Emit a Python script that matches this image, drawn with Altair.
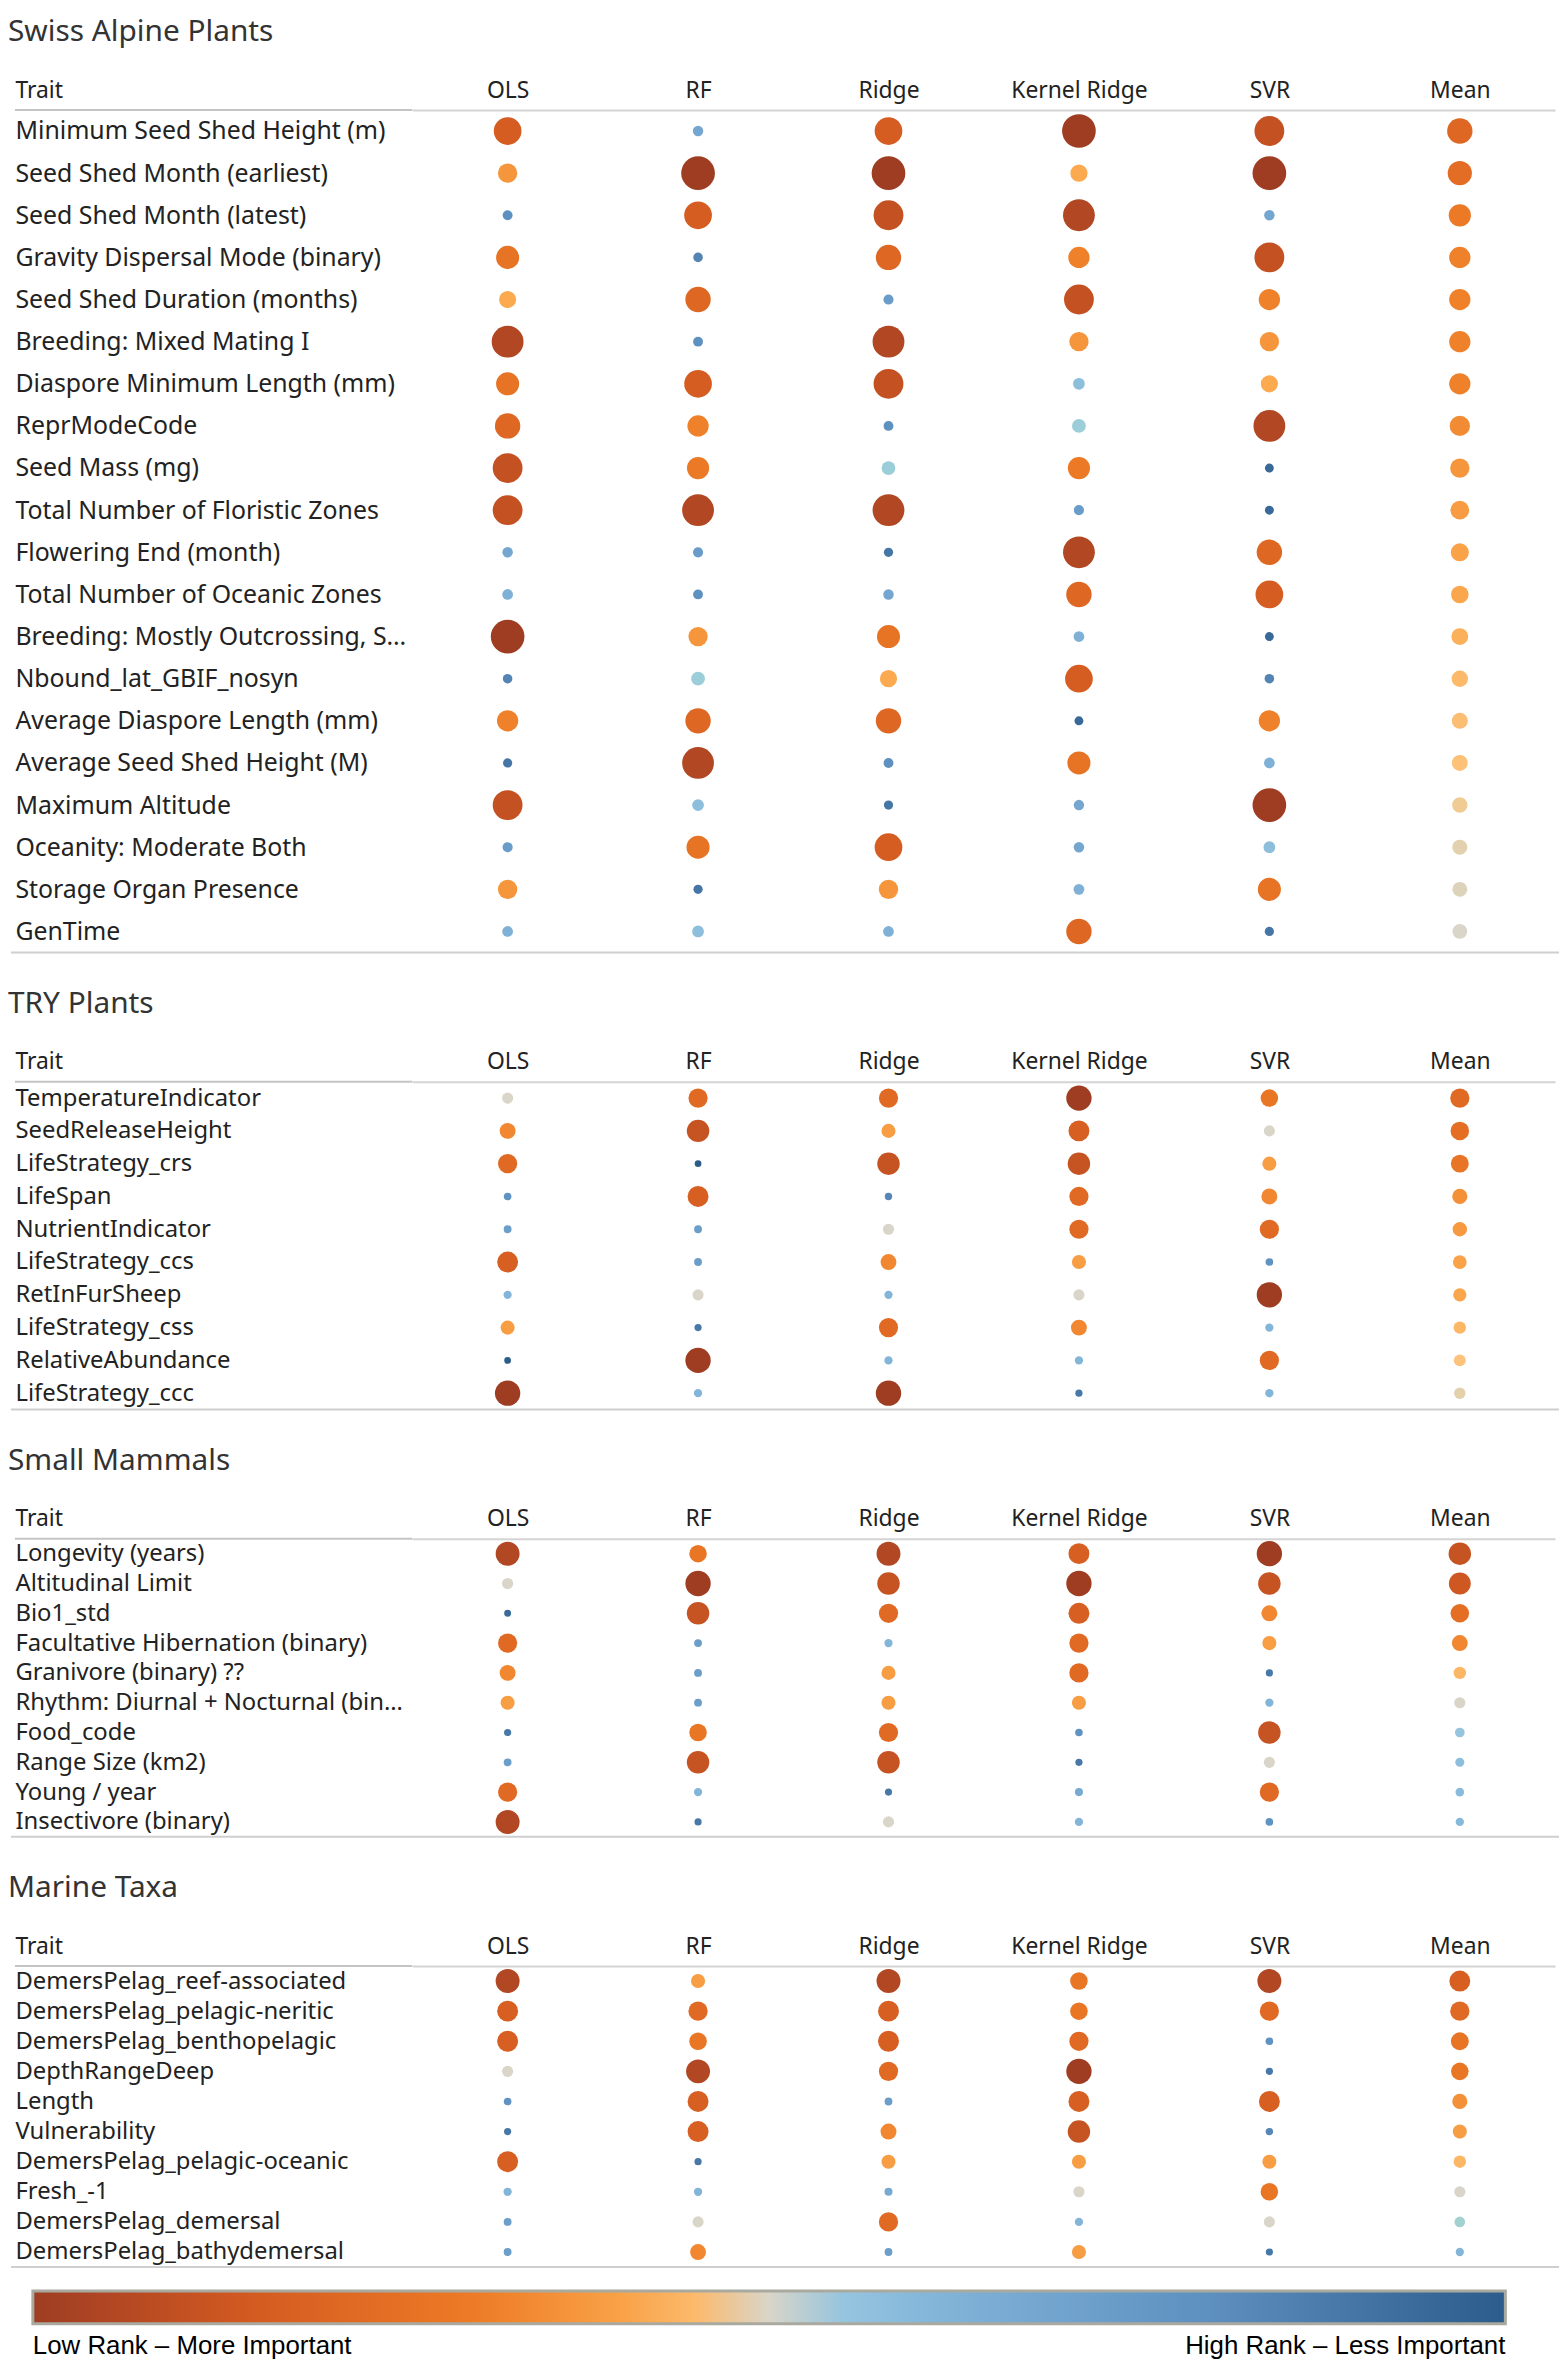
import altair as alt
import pandas as pd

models = ['OLS', 'RF', 'Ridge', 'Kernel Ridge', 'SVR', 'Mean']

# Swiss Alpine Plants: rank of each trait per model (1 = most important, of 20)
swiss_traits = ['Minimum Seed Shed Height (m)', 'Seed Shed Month (earliest)', 'Seed Shed Month (latest)',
                'Gravity Dispersal Mode (binary)', 'Seed Shed Duration (months)', 'Breeding: Mixed Mating I',
                'Diaspore Minimum Length (mm)', 'ReprModeCode', 'Seed Mass (mg)', 'Total Number of Floristic Zones',
                'Flowering End (month)', 'Total Number of Oceanic Zones', 'Breeding: Mostly Outcrossing, Sel..',
                'Nbound_lat_GBIF_nosyn', 'Average Diaspore Length (mm)', 'Average Seed Shed Height (M)',
                'Maximum Altitude', 'Oceanity: Moderate Both', 'Storage Organ Presence', 'GenTime']
swiss_ols = [4, 8, 16, 6, 9, 2, 6, 5, 3, 3, 14, 13, 1, 17, 7, 18, 3, 15, 8, 13]
swiss_rf = [14, 1, 4, 17, 5, 16, 4, 7, 6.5, 2, 15, 16, 8, 11, 5, 2, 12, 6, 18, 12]
swiss_ridge = [4, 1, 3, 5, 15, 2, 3, 16, 11, 2, 18, 14, 6, 9, 5, 16, 18, 4, 8, 13]
swiss_kr = [1, 9, 2, 7, 3, 8, 12, 11, 6.5, 15, 2, 5, 13, 4, 19, 6, 14, 14, 13, 5]
swiss_svr = [3, 1, 14, 3, 7, 8, 9, 2, 19, 19, 5, 4, 19, 17, 7, 13, 1, 12, 6, 18]
swiss_mean = [5, 5.5, 6.5, 7, 7, 7, 7, 7.5, 8, 8.3, 8.6, 8.8, 9.2, 9.5, 9.7, 9.8, 10.1, 10.3, 10.4, 10.5]

# TRY Plants (of 10)
try_traits = ['TemperatureIndicator', 'SeedReleaseHeight', 'LifeStrategy_crs', 'LifeSpan', 'NutrientIndicator',
              'LifeStrategy_ccs', 'RetInFurSheep', 'LifeStrategy_css', 'RelativeAbundance', 'LifeStrategy_ccc']
try_ols = [5.5, 4, 3, 8, 7.5, 2.5, 6.5, 4.5, 10, 1]
try_rf = [3, 2, 10, 2.5, 7.5, 7.5, 5.5, 9, 1, 6.5]
try_ridge = [3, 4.5, 2, 8.5, 5.5, 4, 6.5, 3, 6.5, 1]
try_kr = [1, 2.5, 2, 3, 3, 4.5, 5.5, 4, 6.5, 9]
try_svr = [3.5, 5.5, 4.5, 4, 3, 8, 1, 6.5, 3, 6.5]
try_mean = [3, 3.2, 3.4, 4.2, 4.4, 4.6, 4.7, 5, 5.2, 5.4]

# Small Mammals (of 10)
sm_traits = ['Longevity (years)', 'Altitudinal Limit', 'Bio1_std', 'Facultative Hibernation (binary)',
             'Granivore (binary) ??', 'Rhythm: Diurnal + Nocturnal (binar..', 'Food_code', 'Range Size (km2)',
             'Young / year', 'Insectivore (binary)']
sm_ols = [1.5, 5.5, 9.5, 3, 4, 4.5, 9, 7.5, 3, 1.5]
sm_rf = [3.5, 1, 2, 7.5, 7.5, 7.5, 3.5, 2, 6.5, 9]
sm_ridge = [1.5, 2, 3, 6.5, 4.5, 4.5, 3, 2, 9, 5.5]
sm_kr = [2.5, 1, 2.5, 3, 3, 4.5, 8, 9, 7, 6.5]
sm_svr = [1, 2, 4, 4.5, 9, 6.5, 2, 5.5, 3, 8]
sm_mean = [2, 2.2, 3.2, 4, 5, 5.5, 6, 6.2, 6.3, 6.4]

# Marine Taxa (of 10)
mt_traits = ['DemersPelag_reef-associated', 'DemersPelag_pelagic-neritic', 'DemersPelag_benthopelagic',
             'DepthRangeDeep', 'Length', 'Vulnerability', 'DemersPelag_pelagic-oceanic', 'Fresh_-1',
             'DemersPelag_demersal', 'DemersPelag_bathydemersal']
mt_ols = [1.5, 2.5, 2.5, 5.5, 8, 9, 2.5, 6.5, 7.5, 7.5]
mt_rf = [4.5, 3, 3.5, 1.5, 2.5, 2.5, 9, 6.5, 5.5, 4]
mt_ridge = [1.5, 2.5, 2.5, 3, 7.5, 4, 4.5, 7, 3, 7.5]
mt_kr = [3.5, 3.5, 3, 1, 2.5, 2, 4.5, 5.5, 6.5, 4.5]
mt_svr = [1.5, 3, 8, 9, 2.5, 8.5, 4.5, 3.5, 5.5, 9]
mt_mean = [2.5, 3, 3.4, 3.5, 4.2, 4.5, 5, 5.5, 5.7, 6.5]

FONT = 'Noto Sans'
TEXT = '#222'
COLORS = ['#9e3d22', '#d45b21', '#ed7b26', '#fba94f', '#fdc57f', '#d9d5c9',
          '#9ccae1', '#81b3d8', '#5d8fbf', '#2b5c8a']
COLOR_STOPS = [0, 0.15, 0.3, 0.42, 0.47, 0.5, 0.53, 0.62, 0.8, 1]
LEFT = 400
WIDTH = 1150


def panel(title, traits, cols, n, height, sizes, font_size, legend=False):
    rows = []
    for m, vals in zip(models, cols):
        for t, v in zip(traits, vals):
            rows.append({'trait': t, 'model': m, 'rank': v, 'norm': (v - 1) / (n - 1)})
    df = pd.DataFrame(rows)

    if legend:
        leg = alt.Legend(orient='none', legendX=-LEFT + 18, legendY=height + 24, direction='horizontal',
                         gradientLength=1482, gradientThickness=33, values=[0, 1], title=None,
                         labelExpr="datum.value == 0 ? 'Low Rank – More Important' : 'High Rank – Less Important'",
                         labelFontSize=26, labelFont='Liberation Sans', labelColor='black', labelOffset=10,
                         gradientStrokeColor='#aaa9a0', gradientStrokeWidth=3)
    else:
        leg = None

    dots = alt.Chart(df).mark_circle(opacity=1).encode(
        x=alt.X('model:N', sort=models, scale=alt.Scale(paddingInner=0, paddingOuter=0),
                axis=alt.Axis(orient='top', title=None, labelAngle=0, labelFontSize=23, labelFont=FONT,
                              labelColor=TEXT, ticks=False, domainColor='#d4d4d4', domainWidth=2,
                              labelPadding=8)),
        y=alt.Y('trait:N', sort=traits,
                axis=alt.Axis(title='Trait', titleAngle=0, titleAlign='left', titleBaseline='bottom',
                              titleX=-LEFT, titleY=-8, titleFontWeight='normal', titleFontSize=23,
                              titleFont=FONT, titleColor=TEXT, labelAlign='left', labelPadding=LEFT,
                              labelFontSize=font_size, labelFont=FONT, labelColor=TEXT, ticks=False,
                              domain=False, labelLimit=LEFT - 6, minExtent=LEFT, maxExtent=LEFT)),
        color=alt.Color('norm:Q', scale=alt.Scale(domain=COLOR_STOPS, range=COLORS), legend=leg),
        size=alt.Size('norm:Q', scale=alt.Scale(domain=[0, 0.25, 0.42, 0.6, 1], range=sizes), legend=None),
        tooltip=['trait', 'model', 'rank'],
    )
    one = pd.DataFrame({'a': [0]})
    head_line = alt.Chart(one).mark_rule(color='#c4c4c4', strokeWidth=2).encode(
        x=alt.value(-LEFT), x2=alt.value(0), y=alt.value(0))
    foot_line = alt.Chart(one).mark_rule(color='#cfcfcf', strokeWidth=2).encode(
        x=alt.value(-LEFT - 4), x2=alt.value(WIDTH + 4), y=alt.value(height))
    return alt.layer(dots, head_line, foot_line).properties(
        width=WIDTH, height=height,
        title=alt.TitleParams(title, anchor='start', fontSize=30, font=FONT, fontWeight='normal',
                              color='#333', offset=32, dx=-2),
    )


big = [1150, 560, 300, 120, 75]
small = [650, 340, 170, 70, 45]

chart = alt.vconcat(
    panel('Swiss Alpine Plants', swiss_traits,
          [swiss_ols, swiss_rf, swiss_ridge, swiss_kr, swiss_svr, swiss_mean], 20, 848, big, 25),
    panel('TRY Plants', try_traits, [try_ols, try_rf, try_ridge, try_kr, try_svr, try_mean], 10, 330, small, 24),
    panel('Small Mammals', sm_traits, [sm_ols, sm_rf, sm_ridge, sm_kr, sm_svr, sm_mean], 10, 300, small, 24),
    panel('Marine Taxa', mt_traits, [mt_ols, mt_rf, mt_ridge, mt_kr, mt_svr, mt_mean], 10, 303, small, 24,
          legend=True),
    spacing=36,
).resolve_scale(color='independent', size='independent').configure_view(stroke=None).properties(
    background='white', padding={'left': 0, 'top': 2, 'right': 0, 'bottom': 5})

chart.save("out.html", embed_options={"renderer": "svg", "actions": False})
